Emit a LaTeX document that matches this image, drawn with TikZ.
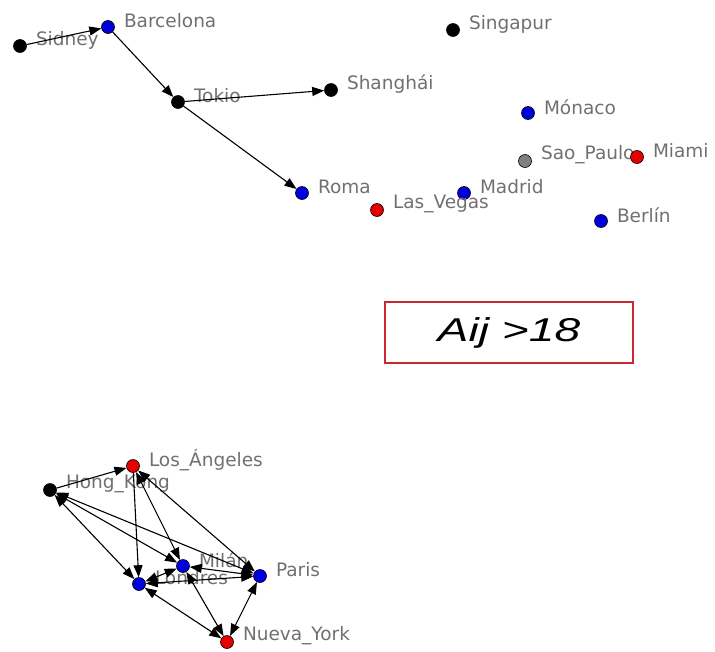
\documentclass[tikz,border=0pt]{standalone}
\usepackage{fontspec}
\setmainfont{DejaVu Sans}
\newfontfamily\boxfont{Liberation Sans}
\usetikzlibrary{arrows.meta}
\definecolor{nblue}{RGB}{0,0,220}
\definecolor{nred}{RGB}{230,0,0}
\definecolor{ngray}{RGB}{128,128,128}
\definecolor{lblgray}{RGB}{112,112,112}
\definecolor{boxred}{RGB}{200,40,50}
\tikzset{
  vtx/.style={circle,draw=black,line width=0.6pt,minimum size=13pt,inner sep=0pt},
  vblue/.style={vtx,fill=nblue},
  vred/.style={vtx,fill=nred},
  vblack/.style={vtx,fill=black},
  vgray/.style={vtx,fill=ngray},
  lbl/.style={text=lblgray,font=\fontsize{18.5}{21}\selectfont,inner sep=0pt,yshift=6pt},
  ar/.style={line width=1.1pt,-{Triangle[length=12pt,width=9pt]}},
  biar/.style={line width=1.1pt,{Triangle[length=12pt,width=9pt]}-{Triangle[length=12pt,width=9pt]}},
}
\begin{document}
\begin{tikzpicture}[x=1pt,y=-1pt,label distance=9pt]
\useasboundingbox (0,0) rectangle (715,651);
% top group
\node[vblack,label={[lbl]east:Sidney}] (sid) at (20,46) {};
\node[vblue,label={[lbl]east:Barcelona}] (bar) at (108,27) {};
\node[vblack,label={[lbl]east:Tokio}] (tok) at (178,102) {};
\node[vblack,label={[lbl]east:Shanghái}] (sha) at (331,90) {};
\node[vblue,label={[lbl]east:Roma}] (rom) at (302,193) {};
\node[vblack,label={[lbl]east:Singapur}] (sin) at (453,30) {};
\node[vblue,label={[lbl]east:Mónaco}] (mon) at (528,113) {};
\node[vgray,label={[lbl]east:Sao\_Paulo}] (sao) at (525,161) {};
\node[vred,label={[lbl]east:Miami}] (mia) at (637,157) {};
\node[vblue,label={[lbl]east:Madrid}] (mad) at (464,193) {};
\node[vred,label={[lbl]east:Las\_Vegas}] (lv) at (377,210) {};
\node[vblue,label={[lbl]east:Berlín}] (ber) at (601,221) {};
\draw[ar] (sid) -- (bar);
\draw[ar] (bar) -- (tok);
\draw[ar] (tok) -- (sha);
\draw[ar] (tok) -- (rom);
% box
\node[draw=boxred,line width=1.3pt,minimum width=248pt,minimum height=61pt,inner sep=0pt] (box) at (509,332.5)
  {\boxfont\itshape\fontsize{33}{36}\selectfont\scalebox{1.4}[1]{Aij >18}};
% bottom group
\node[vred,label={[lbl]east:Los\_Ángeles}] (la) at (133,466) {};
\node[vblack,label={[lbl]east:Hong\_Kong}] (hk) at (50,490) {};
\node[vblue,label={[lbl]east:Milán}] (mil) at (183,566) {};
\node[vblue,label={[lbl]east:Londres}] (lon) at (139,584) {};
\node[vblue,label={[lbl]east:Paris}] (par) at (260,576) {};
\node[vred,label={[lbl]east:Nueva\_York}] (ny) at (227,642) {};
\draw[ar] (hk) -- (la);
\draw[ar] (la) -- (lon);
\draw[biar] (la) -- (mil);
\draw[biar] (la) -- (par);
\draw[biar] (hk) -- (lon);
\draw[biar] (hk) -- (mil);
\draw[biar] (hk) -- (par);
\draw[biar] (mil) -- (lon);
\draw[biar] (lon) -- (par);
\draw[biar] (mil) -- (par);
\draw[biar] (lon) -- (ny);
\draw[biar] (mil) -- (ny);
\draw[biar] (par) -- (ny);
\end{tikzpicture}
\end{document}
